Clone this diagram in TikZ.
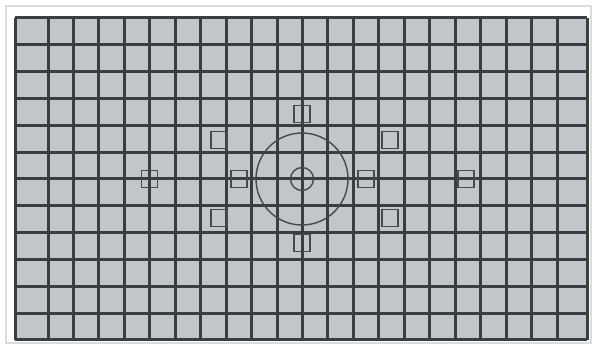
\documentclass[tikz,border=0pt]{standalone}
\definecolor{cellgray}{HTML}{C2C5CA}
\definecolor{gridline}{HTML}{3A3D41}
\definecolor{markline}{HTML}{46494D}
\definecolor{framegray}{HTML}{DCDCDC}
\tikzset{
  gridrule/.style={draw=gridline, line width=3pt},
  afpoint/.style={draw=markline, line width=1.4pt, minimum width=16pt, minimum height=17pt, inner sep=0pt, fill=none},
  ring/.style={draw=markline, line width=1.4pt, circle, inner sep=0pt, fill=none}
}
\begin{document}
\begin{tikzpicture}[x=1pt,y=-1pt]
\useasboundingbox[fill=white] (0,0) rectangle (594,347);
\draw[framegray, line width=2pt] (6,6) rectangle (591,343);
\fill[cellgray] (15,18) rectangle (587,340);
% vertical lines
\foreach \k in {0,...,20} {
  \draw[gridrule] ({48+25.45*\k},18) -- ({48+25.45*\k},340);
}
\draw[gridrule] (15,18) -- (15,340);
\draw[gridrule] (587,18) -- (587,340);
% horizontal lines
\foreach \k in {0,...,12} {
  \draw[gridrule] (15,{18+26.83*\k}) -- (587,{18+26.83*\k});
}
% circles
\node[ring, minimum size=92pt] (bigcircle) at (302,179) {};
\node[ring, minimum size=23pt] (smallcircle) at (302,179) {};
% AF points
\node[afpoint] (top) at (302,114) {};
\node[afpoint] (bottom) at (302,243) {};
\node[afpoint] (ul) at (219,140) {};
\node[afpoint] (ur) at (390,140) {};
\node[afpoint] (ll) at (219,218) {};
\node[afpoint] (lr) at (390,218) {};
\node[afpoint] (ml) at (239,179) {};
\node[afpoint] (mr) at (366,179) {};
\node[afpoint] (fl) at (149.5,179) {};
\node[afpoint] (fr) at (466,179) {};
\end{tikzpicture}
\end{document}
